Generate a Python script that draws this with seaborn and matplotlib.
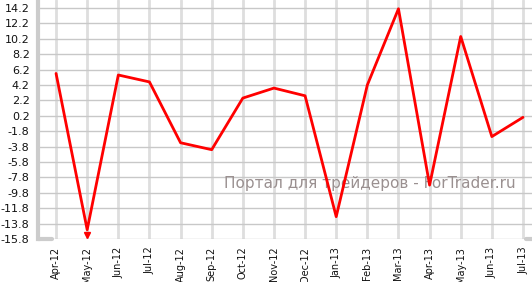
import matplotlib
matplotlib.use("Agg")
import matplotlib.pyplot as plt
import seaborn as sns
import numpy as np
import pandas as pd

months = ["Apr-12", "May-12", "Jun-12", "Jul-12", "Aug-12", "Sep-12", "Oct-12", "Nov-12",
          "Dec-12", "Jan-13", "Feb-13", "Mar-13", "Apr-13", "May-13", "Jun-13", "Jul-13"]
values = [5.7, -14.6, 5.5, 4.6, -3.3, -4.2, 2.5, 3.8, 2.8, -12.9, 4.2, 14.1, -8.8, 10.5, -2.5, 0.0]
ytick_vals = [14.2, 12.2, 10.2, 8.2, 6.2, 4.2, 2.2, 0.2, -1.8, -3.8, -5.8, -7.8, -9.8, -11.8, -13.8, -15.8]
watermark = "Портал для трейдеров - ForTrader.ru"

sns.set_style("white")
plt.rcParams['font.family'] = ['DejaVu Sans']

df = pd.DataFrame({"x": np.arange(len(months)), "v": values})

fig = plt.figure(figsize=(5.32, 2.82), dpi=100)
ax = fig.add_axes([38/532, 1 - 239/282, 494/532, 239/282])

ax.text(0.672, 0.234, watermark, transform=ax.transAxes, ha="center", va="center",
        fontsize=11, color="#9a9090", zorder=2)

sns.lineplot(data=df, x="x", y="v", ax=ax, color="#ff0000", linewidth=2, zorder=3)
# clipped-value marker under the minimum
imin = int(np.argmin(values))
ax.plot([imin], [-15.3], marker="v", color="#ff0000", markersize=5, zorder=4, clip_on=False)

ax.set_xlim(-0.58, len(months) - 1 + 0.29)
ax.set_ylim(-15.8, 15.24)

ax.set_yticks(ytick_vals)
ax.set_yticklabels([f"{v:.1f}" for v in ytick_vals], fontsize=8, color="#111111")
ax.set_xticks(np.arange(len(months)))
ax.set_xticklabels(months, rotation=90, fontsize=7, color="#111111", va="top")

ax.grid(axis="y", color="#c8c8c8", linewidth=1, zorder=0)
ax.grid(axis="x", color="#dedede", linewidth=2, zorder=0)
ax.set_axisbelow(True)

for s in ["top", "right", "bottom"]:
    ax.spines[s].set_visible(False)
ax.spines["left"].set_color("#cccccc")
ax.spines["left"].set_linewidth(3)

ax.tick_params(axis="y", length=4, width=1, color="#888888", pad=2, direction="out")
ax.tick_params(axis="x", length=5, width=2, color="#dedede", pad=0.5)

# bottom-line stubs
ax.axhline(-15.8, xmin=0, xmax=14/494, color="#cccccc", linewidth=3, clip_on=False)
ax.axhline(-15.8, xmin=1 - 6/494, xmax=1, color="#cccccc", linewidth=3, clip_on=False)

ax.set_xlabel("")
ax.set_ylabel("")

fig.savefig("out.png", dpi=100)
